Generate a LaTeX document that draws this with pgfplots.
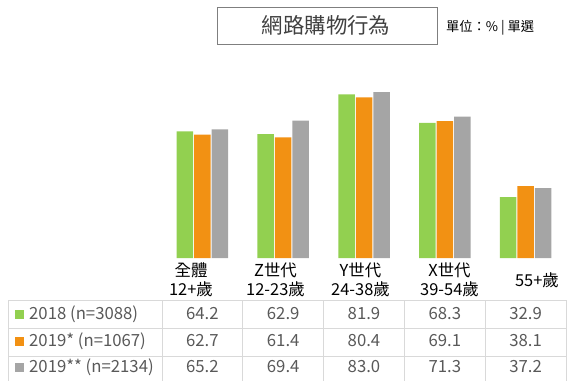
\documentclass[border=0pt]{standalone}
\usepackage{pgfplots}
\pgfplotsset{compat=1.18}
\usepackage{fontspec}
\setmainfont{Noto Sans CJK TC}
\definecolor{cgreen}{HTML}{92D050}
\definecolor{corange}{HTML}{F29113}
\definecolor{cgray}{HTML}{A5A5A5}
\definecolor{txt}{HTML}{595959}
\definecolor{gridc}{HTML}{D9D9D9}
\definecolor{titlec}{HTML}{404040}
\definecolor{boxc}{HTML}{7F7F7F}
\begin{document}
\begin{tikzpicture}
\useasboundingbox (0,0) rectangle (580bp,-390bp);
\begin{axis}[
  at={(162bp,-258bp)}, anchor=south west,
  scale only axis, width=404bp, height=201.6bp,
  xmin=-0.5, xmax=4.5, ymin=3.82, ymax=100,
  hide axis,
  ybar=1bp, bar width=16.5bp,
]
\addplot[fill=cgreen, draw=none] coordinates {(0,64.2)(1,62.9)(2,81.9)(3,68.3)(4,32.9)};
\addplot[fill=corange, draw=none] coordinates {(0,62.7)(1,61.4)(2,80.4)(3,69.1)(4,38.1)};
\addplot[fill=cgray, draw=none] coordinates {(0,65.2)(1,69.4)(2,83.0)(3,71.3)(4,37.2)};
\end{axis}
% title box
\draw[boxc, line width=1bp] (217bp,-7bp) rectangle (437bp,-44bp);
\node[titlec, font=\fontsize{21.5}{24}\selectfont] at (326bp,-25.5bp) {網路購物行為};
\node[black, anchor=west, font=\fontsize{13.3}{15}\selectfont, inner sep=0pt] at (446bp,-28bp) {單位：\% | 單選};
% category labels
\begin{scope}[every node/.style={black, align=center, font=\fontsize{16.5}{19}\selectfont, inner sep=0pt}]
\node at (191bp,-279.5bp) {全體\\12+歲};
\node at (275.5bp,-279.5bp) {Z世代\\12-23歲};
\node at (360.5bp,-279.5bp) {Y世代\\24-38歲};
\node at (449.5bp,-279.5bp) {X世代\\39-54歲};
\node at (537bp,-280bp) {55+歲};
\end{scope}
% table grid
\begin{scope}[gridc, line width=1bp]
\draw (8bp,-300bp) -- (566bp,-300bp);
\draw (8bp,-328bp) -- (566bp,-328bp);
\draw (8bp,-356bp) -- (566bp,-356bp);
\foreach \x in {8,162,242.8,323.6,404.4,485.2,566} {
  \draw (\x bp,-300bp) -- (\x bp,-381bp);
}
\end{scope}
% legend squares
\fill[cgreen] (15bp,-310bp) rectangle (24bp,-319bp);
\fill[corange] (15bp,-337bp) rectangle (24bp,-346bp);
\fill[cgray] (15bp,-363bp) rectangle (24bp,-372bp);
\begin{scope}[every node/.style={txt, font=\fontsize{16.8}{18}\selectfont, inner sep=0pt}]
\node[anchor=west] at (29bp,-314bp) {2018 (n=3088)};
\node[anchor=west] at (29bp,-341bp) {2019* (n=1067)};
\node[anchor=west] at (29bp,-367bp) {2019** (n=2134)};
\node at (202.4bp,-314bp) {64.2};
\node at (283.2bp,-314bp) {62.9};
\node at (364bp,-314bp) {81.9};
\node at (444.8bp,-314bp) {68.3};
\node at (525.6bp,-314bp) {32.9};
\node at (202.4bp,-341bp) {62.7};
\node at (283.2bp,-341bp) {61.4};
\node at (364bp,-341bp) {80.4};
\node at (444.8bp,-341bp) {69.1};
\node at (525.6bp,-341bp) {38.1};
\node at (202.4bp,-367bp) {65.2};
\node at (283.2bp,-367bp) {69.4};
\node at (364bp,-367bp) {83.0};
\node at (444.8bp,-367bp) {71.3};
\node at (525.6bp,-367bp) {37.2};
\end{scope}
\end{tikzpicture}
\end{document}
